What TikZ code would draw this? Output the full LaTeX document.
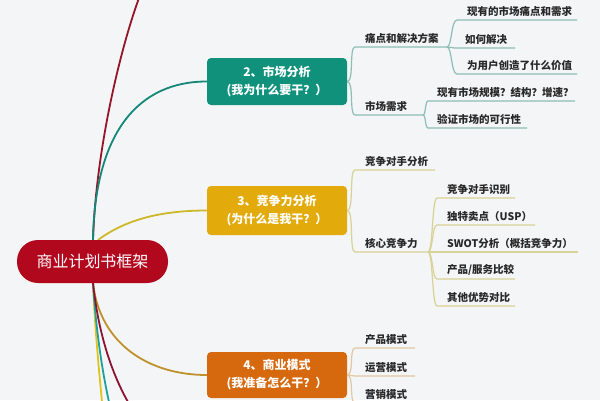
\documentclass[tikz,border=0pt]{standalone}
\usepackage{fontspec}
\setmainfont{Noto Sans CJK SC}
\definecolor{bgc}{RGB}{244,245,247}
\definecolor{rootc}{RGB}{178,8,30}
\definecolor{tealc}{RGB}{16,145,124}
\definecolor{goldc}{RGB}{226,170,10}
\definecolor{orangec}{RGB}{214,104,14}
\definecolor{redline}{RGB}{150,20,40}
\definecolor{tealline}{RGB}{20,135,120}
\definecolor{yelline}{RGB}{205,185,40}
\definecolor{brline}{RGB}{190,145,45}
\definecolor{byel}{RGB}{225,195,30}
\definecolor{bteal}{RGB}{30,160,160}
\definecolor{bmaroon}{RGB}{140,20,50}
\definecolor{tbr}{RGB}{140,190,178}
\definecolor{ybr}{RGB}{215,210,150}
\definecolor{obr}{RGB}{225,200,160}
\definecolor{leaftext}{RGB}{40,40,40}
\tikzset{
  mainbox/.style={rounded corners=4pt, minimum width=140pt, text=white,
    font=\fontsize{12}{18}\selectfont\bfseries, align=center, inner sep=0pt},
  rootbox/.style={rounded corners=21pt, fill=rootc, minimum width=151pt, minimum height=43pt,
    text=white, font=\fontsize{16}{18}\selectfont, inner sep=0pt},
  leaf/.style={anchor=south west, inner xsep=10pt, inner ysep=3pt,
    font=\fontsize{10.5}{12}\selectfont\bfseries, text=leaftext},
  mainline/.style={line width=1.8pt},
  tb/.style={draw=tbr, line width=1.2pt},
  yb/.style={draw=ybr, line width=1.2pt},
  ob/.style={draw=obr, line width=1.2pt},
}
\begin{document}
\begin{tikzpicture}[x=1pt,y=-1pt]
\useasboundingbox (0,0) rectangle (600,400);
\fill[bgc] (0,0) rectangle (600,400);

% free ends
\coordinate (redend) at (139,-2);
\coordinate (yend) at (102,402);
\coordinate (tend) at (109,402);
\coordinate (mend) at (128,402);
\coordinate (rt) at (93,240);
\coordinate (rb) at (93,283);

% main boxes
\node[mainbox, fill=tealc, minimum height=47pt] (n2) at (277,81.5) {2、市场分析\\(我为什么要干？）};
\node[mainbox, fill=goldc, minimum height=49pt] (n3) at (277,210.5) {3、竞争力分析\\(为什么是我干？）};
\node[mainbox, fill=orangec, minimum height=46pt] (n4) at (277,375) {4、商业模式\\(我准备怎么干？）};

% root connectors
\draw[mainline, redline] (rt) .. controls (96,150) and (120,50) .. (redend);
\draw[mainline, tealline] (rt) .. controls (95,130) and (140,81.5) .. (n2.west);
\draw[mainline, yelline] ([xshift=5pt]rt) .. controls (125,220) and (160,210.5) .. (n3.west);
\draw[mainline, brline] (rb) .. controls (100,345) and (150,375) .. (n4.west);
\draw[mainline, byel] (rb) .. controls (95,330) and (99,370) .. (yend);
\draw[mainline, bteal] (rb) .. controls (96,330) and (102,370) .. (tend);
\draw[mainline, bmaroon] (rb) .. controls (98,330) and (110,370) .. (mend);

% root on top of its connectors
\node[rootbox] (root) at (92.5,261.5) {商业计划书框架};

% ---- market analysis branch
\node[leaf] (p1) at (355,47) {痛点和解决方案};
\node[leaf] (p2) at (355,115) {市场需求};
\draw[tb] (n2.east) .. controls +(7,0) and +(-6,0) .. (p1.south west) -- ++(92,0) coordinate (p1e);
\draw[tb] (n2.east) .. controls +(7,0) and +(-6,0) .. (p2.south west) -- ++(68,0) coordinate (p2e);

\node[leaf] (a1) at (457,20) {现有的市场痛点和需求};
\node[leaf] (a2) at (455,48) {如何解决};
\node[leaf] (a3) at (457,74) {为用户创造了什么价值};
\draw[tb] (p1e) .. controls +(5,0) and +(-6,0) .. (a1.south west) -- ++(120,0);
\draw[tb] (p1e) .. controls +(4,0) and +(-4,0) .. (a2.south west) -- ++(60,0);
\draw[tb] (p1e) .. controls +(5,0) and +(-6,0) .. (a3.south west) -- ++(120,0);

\node[leaf, inner xsep=9pt] (b1) at (428,101) {现有市场规模？结构？增速？};
\node[leaf, inner xsep=9pt] (b2) at (428,128) {验证市场的可行性};
\draw[tb] (p2e) .. controls +(3,0) and +(-3,0) .. (b1.south west) -- ++(147,0);
\draw[tb] (p2e) .. controls +(3,0) and +(-3,0) .. (b2.south west) -- ++(99,0);

% ---- competitiveness branch
\node[leaf] (c1) at (355,170) {竞争对手分析};
\node[leaf] (c2) at (355,252) {核心竞争力};
\draw[yb] (n3.east) .. controls +(7,0) and +(-6,0) .. (c1.south west) -- ++(80,0);
\draw[yb] (n3.east) .. controls +(7,0) and +(-6,0) .. (c2.south west) -- ++(73,0) coordinate (c2e);

\node[leaf] (d1) at (437,198) {竞争对手识别};
\node[leaf] (d2) at (437,225) {独特卖点（USP）};
\node[leaf] (d3) at (437,252) {SWOT分析（概括竞争力）};
\node[leaf] (d4) at (437,279) {产品/服务比较};
\node[leaf] (d5) at (437,306) {其他优势对比};
\draw[yb] (c2e) .. controls +(5,0) and +(-5,0) .. (d1.south west) -- ++(78,0);
\draw[yb] (c2e) .. controls +(5,0) and +(-5,0) .. (d2.south west) -- ++(98,0);
\draw[yb] (c2e) -- (d3.south west) -- ++(141,0);
\draw[yb] (c2e) .. controls +(5,0) and +(-5,0) .. (d4.south west) -- ++(78,0);
\draw[yb] (c2e) .. controls +(5,0) and +(-5,0) .. (d5.south west) -- ++(78,0);

% ---- business model branch
\node[leaf] (e1) at (355,348) {产品模式};
\node[leaf] (e2) at (355,376) {运营模式};
\node[leaf] (e3) at (355,403) {营销模式};
\draw[ob] (n4.east) .. controls +(7,0) and +(-6,0) .. (e1.south west) -- ++(60,0);
\draw[ob] (n4.east) .. controls +(4,0) and +(-4,0) .. (e2.south west) -- ++(60,0);
\draw[ob] (n4.east) .. controls +(7,0) and +(-6,0) .. (e3.south west) -- ++(60,0);
\end{tikzpicture}
\end{document}
